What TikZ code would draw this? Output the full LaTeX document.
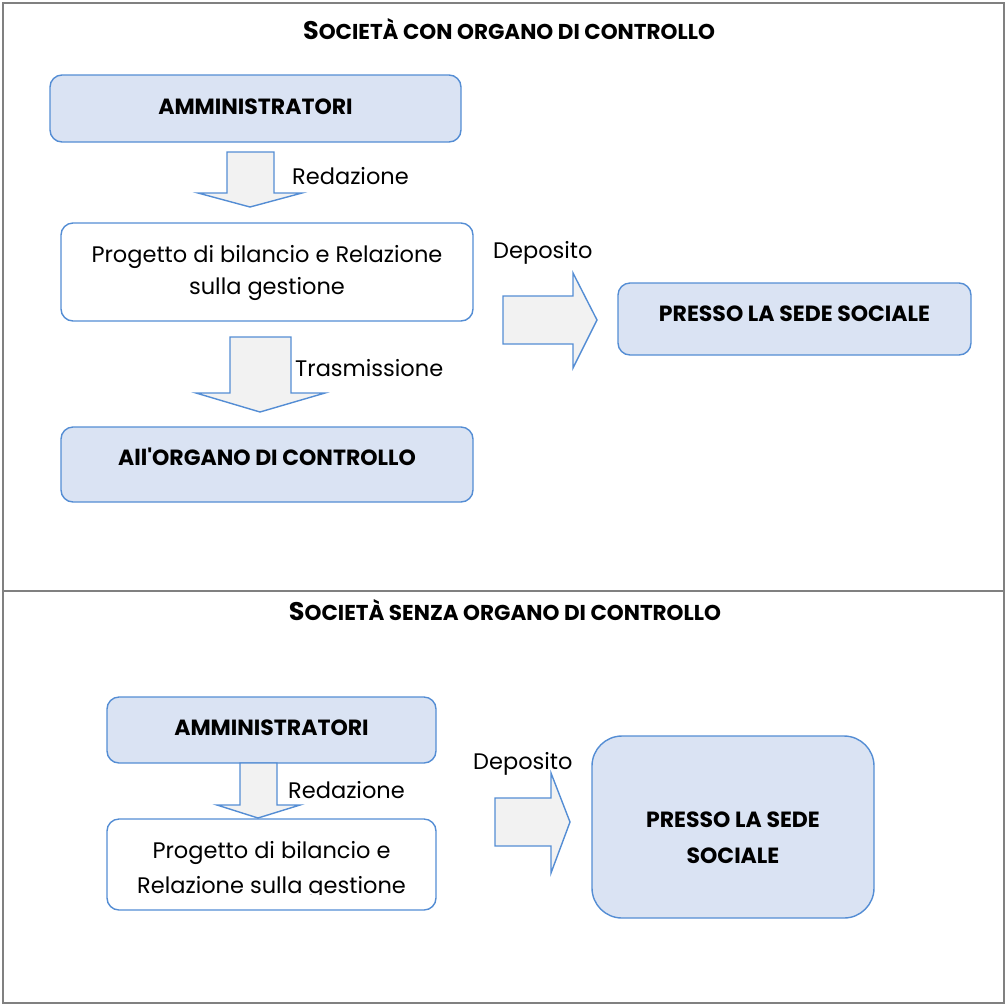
\documentclass[tikz,border=0pt]{standalone}
\usepackage{fontspec}
\setmainfont{Poppins}
\definecolor{bborder}{RGB}{84,141,212}
\definecolor{bfill}{RGB}{218,227,243}
\definecolor{afill}{RGB}{242,242,242}
\definecolor{framegray}{RGB}{128,128,128}
\begin{document}
\begin{tikzpicture}[x=1pt,y=-1pt,
  bluebox/.style={draw=bborder, fill=bfill, line width=1.4pt, rounded corners=12pt, inner sep=0pt},
  whitebox/.style={draw=bborder, fill=white, line width=1.4pt, rounded corners=12pt, inner sep=0pt},
  blockarrow/.style={draw=bborder, fill=afill, line width=1.4pt, line join=miter},
  boldtxt/.style={font=\fontsize{22}{22}\selectfont\bfseries, anchor=base, inner sep=0pt},
  regtxt/.style={font=\fontsize{22.5}{22.5}\selectfont, anchor=base, inner sep=0pt},
  titletxt/.style={font=\bfseries, anchor=base, inner sep=0pt},
]
\useasboundingbox (0,0) rectangle (1006,1005);
% frame
\draw[framegray, line width=2pt] (3,3) rectangle (1004,1003);
\draw[framegray, line width=2pt] (3,591) -- (1004,591);

% ---------- top section ----------
\node[titletxt] (title1) at (509,39) {{\fontsize{25.5}{25.5}\selectfont S}{\fontsize{21.5}{21.5}\selectfont OCIETÀ CON ORGANO DI CONTROLLO}};

\node[bluebox, minimum width=411pt, minimum height=67pt] (adm1) at (255.5,108.5) {};
\node[boldtxt] (adm1t) at (255.5,114) {AMMINISTRATORI};

\draw[blockarrow] (227,152) -- (274,152) -- (274,193) -- (302,193) -- (250,207) -- (198,193) -- (227,193) -- cycle;
\node[regtxt, anchor=base west] (red1) at (292,184) {Redazione};

\node[whitebox, minimum width=412pt, minimum height=98pt] (prog1) at (267,272) {};
\node[regtxt] (prog1a) at (267,262) {Progetto di bilancio e Relazione};
\node[regtxt] (prog1b) at (267,294) {sulla gestione};

\draw[blockarrow] (230,337) -- (291,337) -- (291,393) -- (325,393) -- (260,412) -- (196,393) -- (230,393) -- cycle;
\node[regtxt, anchor=base west] (tras) at (295,376) {Trasmissione};

\node[bluebox, minimum width=412pt, minimum height=75pt] (org1) at (267,464.5) {};
\node[boldtxt] (org1t) at (267,465) {All\textquotesingle ORGANO DI CONTROLLO};

\draw[blockarrow] (503,296) -- (573,296) -- (573,273) -- (597,320) -- (573,368) -- (573,344) -- (503,344) -- cycle;
\node[regtxt, anchor=base west] (dep1) at (493,258) {Deposito};

\node[bluebox, minimum width=353pt, minimum height=72pt] (sede1) at (794.5,319) {};
\node[boldtxt] (sede1t) at (794.5,321) {PRESSO LA SEDE SOCIALE};

% ---------- bottom section ----------
\node[titletxt] (title2) at (505,620) {{\fontsize{25.5}{25.5}\selectfont S}{\fontsize{21.5}{21.5}\selectfont OCIETÀ SENZA ORGANO DI CONTROLLO}};

\node[bluebox, minimum width=329pt, minimum height=66pt] (adm2) at (271.5,730) {};
\node[boldtxt] (adm2t) at (271.5,735) {AMMINISTRATORI};

\draw[blockarrow] (240,763) -- (277,763) -- (277,805) -- (300,805) -- (258,818) -- (217,805) -- (240,805) -- cycle;
\node[regtxt, anchor=base west] (red2) at (288,798) {Redazione};

\node[whitebox, minimum width=329pt, minimum height=91pt] (prog2) at (271.5,864.5) {};
\node[regtxt] (prog2a) at (271.5,858) {Progetto di bilancio e};
\begin{scope}
\clip (107,860) rectangle (436,894.5);
\node[regtxt] (prog2b) at (271.5,893) {Relazione sulla gestione};
\end{scope}

\draw[blockarrow] (495,798) -- (551,798) -- (551,773) -- (570,822) -- (551,873) -- (551,846) -- (495,846) -- cycle;
\node[regtxt, anchor=base west] (dep2) at (473,769) {Deposito};

\node[bluebox, rounded corners=30pt, minimum width=282pt, minimum height=182pt] (sede2) at (733,827) {};
\node[boldtxt] (sede2a) at (733,827) {PRESSO LA SEDE};
\node[boldtxt] (sede2b) at (733,863) {SOCIALE};
\end{tikzpicture}
\end{document}
